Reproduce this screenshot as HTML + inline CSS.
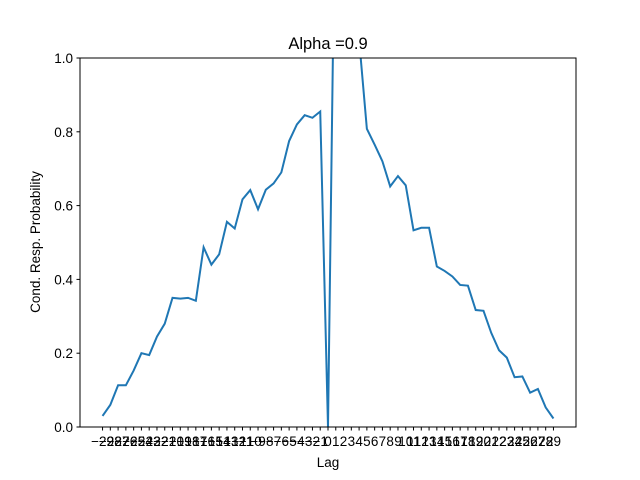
<!DOCTYPE html>
<html><head><meta charset="utf-8"><style>body{margin:0;background:#fff}svg{display:block;font-family:"Liberation Sans","DejaVu Sans",sans-serif}</style></head>
<body>
<svg width="640" height="480" viewBox="0 0 640 480">
<defs><clipPath id="c"><rect x="80" y="58" width="496" height="369"/></clipPath></defs>
<rect x="0" y="0" width="640" height="480" fill="#fff"/>
<text x="328" y="49" text-anchor="middle" font-size="16.5" fill="#000">Alpha =0.9</text>
<g id="ticks"></g>
<path id="line" d="" fill="none" stroke="#1f77b4" stroke-width="2" clip-path="url(#c)"/>
<rect x="80" y="58" width="496" height="369" fill="none" stroke="#000" stroke-width="1"/>
<text x="328" y="467" text-anchor="middle" font-size="13.5">Lag</text>
<text transform="translate(40,242) rotate(-90)" text-anchor="middle" font-size="13.5">Cond. Resp. Probability</text>
</svg>
<script>
const lags = [];
for (let i = -29; i <= 29; i++) lags.push(i);
const values = [0.03,0.06,0.113,0.113,0.153,0.2,0.195,0.245,0.28,0.35,0.348,0.35,0.342,0.487,0.44,0.468,0.556,0.538,0.617,0.642,0.59,0.643,0.66,0.69,0.775,0.82,0.845,0.838,0.855,
0,1.6,1.5,1.5,1.05,
0.808,0.765,0.72,0.652,0.68,0.655,0.533,0.54,0.54,0.435,0.423,0.408,0.385,0.383,0.317,0.315,0.255,0.208,0.188,0.135,0.137,0.093,0.103,0.053,0.023];
const yTicks = [0,0.2,0.4,0.6,0.8,1.0];
const yTickLabels = ["0.0","0.2","0.4","0.6","0.8","1.0"];
const NS="http://www.w3.org/2000/svg";
const xs = v => 80 + (v + 31.9) / 63.8 * 496;
const ys = v => 427 - v * 369;
let d = "";
values.forEach((v,i)=>{ d += (i?"L":"M") + xs(lags[i]).toFixed(2) + "," + ys(v).toFixed(2); });
document.getElementById("line").setAttribute("d", d);
const g = document.getElementById("ticks");
lags.forEach(l=>{
  const x = xs(l);
  const t = document.createElementNS(NS,"line");
  t.setAttribute("x1",x);t.setAttribute("x2",x);t.setAttribute("y1",427);t.setAttribute("y2",430.5);t.setAttribute("stroke","#000");
  
  
  g.appendChild(t);
  const tx = document.createElementNS(NS,"text");
  tx.setAttribute("x",x);tx.setAttribute("y",446);tx.setAttribute("text-anchor","middle");tx.setAttribute("font-size","13.5");
  tx.textContent = String(l).replace("-","\u2212");
  
  
  g.appendChild(tx);
});
yTicks.forEach((v,i)=>{
  const y = ys(v);
  const t = document.createElementNS(NS,"line");
  t.setAttribute("x1",76.5);t.setAttribute("x2",80);t.setAttribute("y1",y);t.setAttribute("y2",y);t.setAttribute("stroke","#000");
  
  
  g.appendChild(t);
  const tx = document.createElementNS(NS,"text");
  tx.setAttribute("x",73);tx.setAttribute("y",y+5);tx.setAttribute("text-anchor","end");tx.setAttribute("font-size","13.5");
  tx.textContent = yTickLabels[i];
  
  
  g.appendChild(tx);
});
</script>
</body></html>
